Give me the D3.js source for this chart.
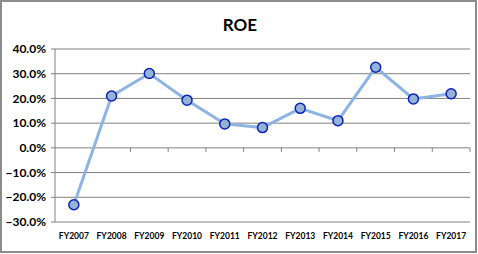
<!DOCTYPE html>
<html>
<head>
<meta charset="utf-8">
<script src="https://cdn.jsdelivr.net/npm/d3@7"></script>
<style>
  body { margin: 0; background: #fff; }
  text { font-family: Lato, "Open Sans", sans-serif; }
</style>
</head>
<body>
<div id="chart"></div>
<script>
// data
var years = ["FY2007","FY2008","FY2009","FY2010","FY2011","FY2012","FY2013","FY2014","FY2015","FY2016","FY2017"]
var roe = [-23.0, 21.0, 30.1, 19.3, 9.7, 8.2, 16.0, 11.0, 32.6, 19.8, 21.9]
var yTicks = [-30, -20, -10, 0, 10, 20, 30, 40]

var W = 478, H = 254
var margin = {top: 49, right: 8, bottom: 32, left: 55},
    width = W - margin.left - margin.right,
    height = H - margin.top - margin.bottom

var svg = d3.select("#chart")
  .append("svg")
    .attr("width", W)
    .attr("height", H)

// outer frame
svg.append("rect")
  .attr("x", 1).attr("y", 1)
  .attr("width", W - 3).attr("height", H - 3)
  .attr("fill", "#fff")
  .attr("stroke", "#8c8c8c")
  .attr("stroke-width", 2)

svg.append("text")
  .attr("x", 240).attr("y", 31)
  .attr("text-anchor", "middle")
  .style("font-size", "17px")
  .style("font-weight", "bold")
  .text("ROE")

var g = svg.append("g")
  .attr("transform", "translate(" + margin.left + "," + margin.top + ")")

// scales
var x = d3.scaleBand().domain(years).range([0, width])
var y = d3.scaleLinear().domain([-30, 40]).range([height, 0])

// grid
g.selectAll("grid")
  .data(yTicks)
  .enter()
  .append("line")
    .attr("x1", -4).attr("x2", width)
    .attr("y1", function(d){ return y(d) })
    .attr("y2", function(d){ return y(d) })
    .attr("stroke", "#808080")
    .attr("stroke-width", 1)

// y axis line
g.append("line")
  .attr("x1", 0).attr("x2", 0)
  .attr("y1", 0).attr("y2", height)
  .attr("stroke", "#808080")

// y labels
g.selectAll("ylab")
  .data(yTicks)
  .enter()
  .append("text")
    .attr("x", -9)
    .attr("y", function(d){ return y(d) })
    .attr("dy", "0.35em")
    .attr("text-anchor", "end")
    .style("font-size", "12px")
    .style("font-weight", "bold")
    .text(function(d){ return d3.format(".1f")(d) + "%" })

// x ticks on zero line
g.selectAll("xtick")
  .data(years.slice(1).concat(["end"]))
  .enter()
  .append("line")
    .attr("x1", function(d,i){ return x.step() * (i + 1) })
    .attr("x2", function(d,i){ return x.step() * (i + 1) })
    .attr("y1", y(0)).attr("y2", y(0) + 4)
    .attr("stroke", "#808080")

// x labels
g.selectAll("xlab")
  .data(years)
  .enter()
  .append("text")
    .attr("x", function(d){ return x(d) + x.bandwidth() / 2 })
    .attr("y", height + 17)
    .attr("text-anchor", "middle")
    .style("font-size", "8.5px")
    .style("font-weight", "bold")
    .text(function(d){ return d })

// line
var line = d3.line()
  .x(function(d,i){ return x(years[i]) + x.bandwidth() / 2 })
  .y(function(d){ return y(d) })

g.append("path")
  .datum(roe)
  .attr("d", line)
  .attr("fill", "none")
  .attr("stroke", "#8db4e2")
  .attr("stroke-width", 3)

// markers
g.selectAll("dot")
  .data(roe)
  .enter()
  .append("circle")
    .attr("cx", function(d,i){ return x(years[i]) + x.bandwidth() / 2 })
    .attr("cy", function(d){ return y(d) })
    .attr("r", 5)
    .attr("fill", "#95b3d7")
    .attr("stroke", "#0a22b8")
    .attr("stroke-width", 1.5)
</script>
</body>
</html>
